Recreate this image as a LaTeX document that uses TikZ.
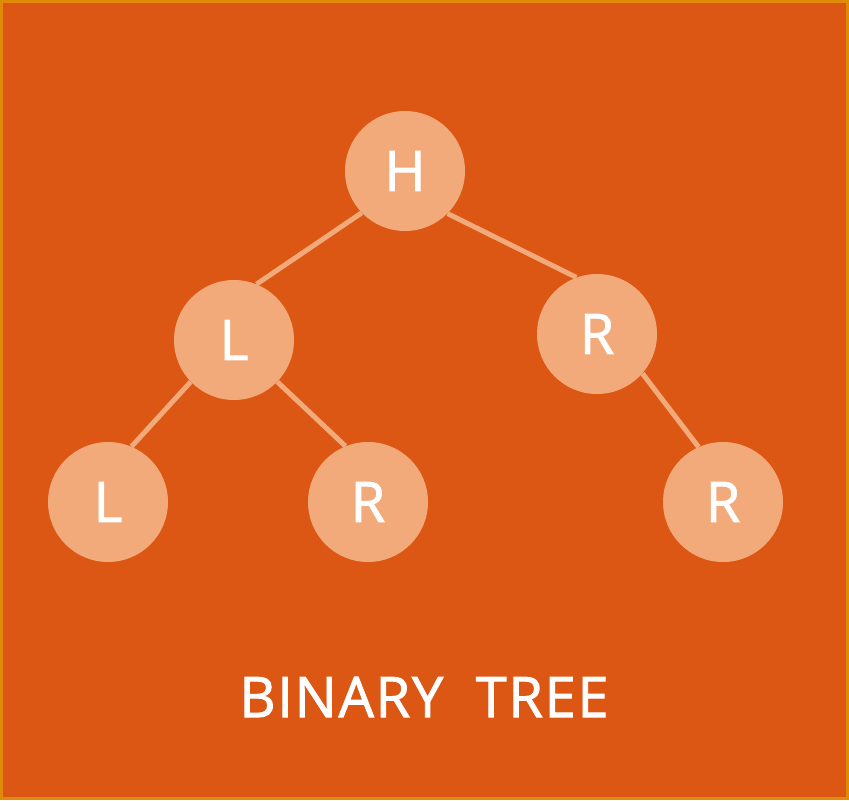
\documentclass[tikz,border=0pt]{standalone}
\usepackage{fontspec}
\setmainfont{Open Sans}
\newfontfamily\treefont{Open Sans}[FakeBold=1.6]
\newfontfamily\titlefont{Open Sans}[FakeBold=1.6, LetterSpace=3]
\usepackage{xcolor}
\usepackage{tikz}
\usetikzlibrary{positioning}

\definecolor{bgorange}{HTML}{DC5714}
\definecolor{rimorange}{HTML}{E08A0A}
\definecolor{nodepeach}{HTML}{F2AA7B}

\tikzset{
    treenode/.style={circle, fill=nodepeach, minimum size=90pt, inner sep=0pt,
        text=white, font=\treefont\fontsize{42}{42}\selectfont},
    treeedge/.style={draw=nodepeach, line width=3.75pt}
}

\begin{document}
\begin{tikzpicture}[x=0.75pt, y=-0.75pt]
            \fill[bgorange] (0, 0) rectangle (849, 800);
            \draw[rimorange, line width=2.25pt] (1.5, 1.5) rectangle (847.5, 798.5);
            \useasboundingbox (0, 0) rectangle (849, 800);

            \node[treenode] (root) at (405, 171) {H};
            \node[treenode] (left) at (234, 340) {L};
            \node[treenode] (right) at (597, 334) {R};
            \node[treenode] (leftleft) at (108, 502) {L};
            \node[treenode] (leftright) at (368, 502) {R};
            \node[treenode] (rightright) at (723, 502) {R};

            % edges leave the parent low and enter the child high
            \draw[treeedge] (root.224) -- (left.68);
            \draw[treeedge] (root.315) -- (right.110);
            \draw[treeedge] (left.224) -- (leftleft.67);
            \draw[treeedge] (left.316) -- (leftright.112);
            \draw[treeedge] (right.319) -- (rightright.114);

            \node[text=white, font=\titlefont\fontsize{42}{42}\selectfont] (title) at (424, 697) {BINARY\ \ TREE};
        \end{tikzpicture}
\end{document}
